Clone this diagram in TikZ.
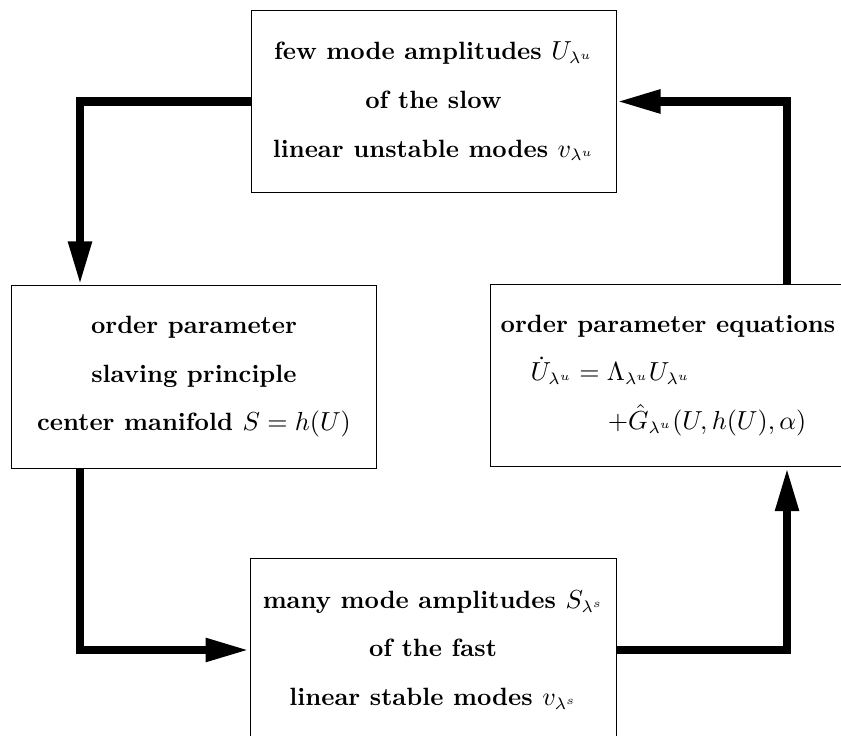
\documentclass[tikz,border=0pt]{standalone}
\usepackage{amsmath}
\usepackage{amssymb}
\usepackage{tikz}
\usetikzlibrary{arrows.meta, positioning}

\begin{document}
\begin{tikzpicture}[x=0.42pt, y=-0.42pt,
		box/.style={draw, thin, minimum width=153.3pt, minimum height=76.6pt, align=center, font=\fontsize{10.5pt}{12.6pt}\selectfont\bfseries},
		flow/.style={line width=3.6pt, -{Triangle[length=18.5pt, width=9.2pt]}}]
		\useasboundingbox (0,0) rectangle (841,736);
		\node [box] (few) at (433.5,101.5) {few mode amplitudes $U_{\lambda^u}$\\[7.8pt] of the slow\\[7.8pt] linear unstable modes $v_{\lambda^u}$};
		\node [box, minimum width=152.9pt] (order) at (194,377) {order parameter\\[7.8pt] slaving principle\\[7.8pt] center manifold $S=h(U)$};
		\node [box, minimum width=149.5pt, align=left] (eqs) at (668,375.5) {order parameter equations\\[7.8pt] \hspace*{12.6pt}$\dot U_{\lambda^u}=\Lambda_{\lambda^u}U_{\lambda^u}$\\[7.8pt] \hspace*{45pt}$+\hat G_{\lambda^u}(U,h(U),\alpha)$};
		\node [box, minimum width=153.7pt] (many) at (433,650) {many mode amplitudes $S_{\lambda^s}$\\[7.8pt] of the fast\\[7.8pt] linear stable modes $v_{\lambda^s}$};
		\coordinate (lc) at (80,0);
		\coordinate (rc) at (787,0);
		\draw [flow] (few.west) -| (lc |- order.north);
		\draw [flow] (order.south -| lc) |- (many.west);
		\draw [flow] (many.east) -| (rc |- eqs.south);
		\draw [flow] (eqs.north -| rc) |- (few.east);
	\end{tikzpicture}
\end{document}
